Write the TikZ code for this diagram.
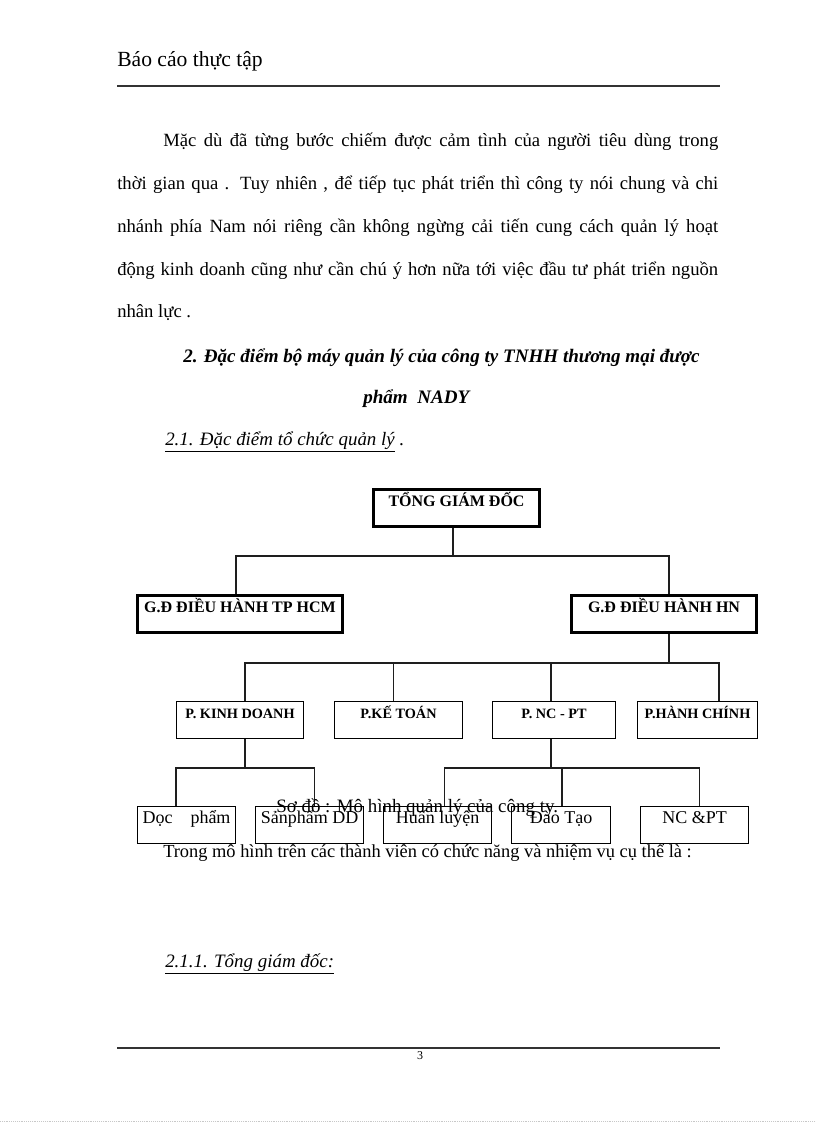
\documentclass[tikz,border=0pt]{standalone}
\usepackage{fontspec}
\setmainfont{Liberation Serif}
\usepackage{xcolor}
\usepackage{tikz}
\usetikzlibrary{positioning,calc}
\definecolor{DOCink}{HTML}{000000}
\definecolor{DOCline}{HTML}{1E1E1E}
\definecolor{DOCrule}{HTML}{333333}
\definecolor{DOCedge}{HTML}{C8C8C8}
\newcommand{\fullline}[2]{\makebox[#1][s]{#2}}
\tikzset{
  topbox/.style={draw=DOCink, line width=2.2pt, inner sep=0pt, align=center, text height=13pt, text depth=15pt, font=\fontsize{12}{14}\selectfont\bfseries},
  deptbox/.style={draw=DOCink, line width=0.8pt, inner sep=0pt, align=center, text height=12.4pt, text depth=15.35pt, font=\fontsize{10.7}{12}\selectfont\bfseries},
  leafbox/.style={draw=DOCink, line width=0.8pt, inner sep=0pt, align=center, text height=13.1pt, text depth=14.65pt, font=\fontsize{13.5}{15}\selectfont},
  orglink/.style={draw=DOCline, line width=0.8pt},
  bodyline/.style={anchor=base west, inner sep=0pt, font=\fontsize{14}{16}\selectfont},
  pagerule/.style={draw=DOCrule, line width=1.3pt}
}

\begin{document}
\begin{tikzpicture}[x=0.75pt, y=-0.75pt]
\fill[white] (0,0) rectangle (816,1123);
\useasboundingbox (0,0) rectangle (816,1123);

% page head
\node[anchor=base west, inner sep=0pt, font=\fontsize{16.2}{18}\selectfont] (head) at (117,67) {Báo cáo thực tập};
\draw[pagerule] (117,86) -- (720,86);

% paragraph
\node[bodyline] (p1) at (163,147) {\fullline{416.25pt}{Mặc dù đã từng bước chiếm được cảm tình của người tiêu dùng trong}};
\node[bodyline] (p2) at (117,190) {\fullline{450.75pt}{thời gian qua . Tuy nhiên , để tiếp tục phát triển thì công ty nói chung và chi}};
\node[bodyline] (p3) at (117,233) {\fullline{450.75pt}{nhánh phía Nam nói riêng cần không ngừng cải tiến cung cách quản lý hoạt}};
\node[bodyline] (p4) at (117,275) {\fullline{450.75pt}{động kinh doanh cũng như cần chú ý hơn nữa tới việc đầu tư phát triển nguồn}};
\node[bodyline] (p5) at (117,317) {nhân lực .};

% headings
\node[bodyline, font=\fontsize{14.3}{16}\selectfont\bfseries\itshape] (sec2) at (183,362) {2. Đặc điểm bộ máy quản lý của công ty TNHH thương mại được};
\node[bodyline, font=\fontsize{14.3}{16}\selectfont\bfseries\itshape] (sec2b) at (363,403) {phẩm\ \ NADY};
\node[bodyline, font=\fontsize{14.2}{16}\selectfont\itshape] (sec21) at (165,445) {\underline{2.1. Đặc điểm tổ chức quản lý} .};

% chart
\node[topbox, minimum width=125pt] (tgd) at (456.5,508) {TỔNG GIÁM ĐỐC};
\node[topbox, minimum width=153.75pt] (hcm) at (240,614) {G.Đ ĐIỀU HÀNH TP HCM};
\node[topbox, minimum width=138.75pt] (hn) at (664,614) {G.Đ ĐIỀU HÀNH HN};

\node[deptbox, minimum width=95.25pt] (kd) at (240,720) {P. KINH DOANH};
\node[deptbox, minimum width=96pt] (kt) at (398.5,720) {P.KẾ TOÁN};
\node[deptbox, minimum width=92.25pt] (nc) at (554,720) {P. NC - PT};
\node[deptbox, minimum width=90pt] (hc) at (697.5,720) {P.HÀNH CHÍNH};

\node[leafbox, minimum width=73.5pt] (dp) at (186.5,825) {Dọc\ \ \ \ phẩm};
\node[leafbox, minimum width=81pt] (sp) at (309.5,825) {Sảnphẩm DD};
\node[leafbox, minimum width=81pt] (hl) at (437.5,825) {Huấn luyện};
\node[leafbox, minimum width=74.25pt] (dt) at (561,825) {Đào Tạo};
\node[leafbox, minimum width=81pt] (ncpt) at (694.5,825) {NC \&PT};

\coordinate (busA) at (453,556);
\draw[orglink] (busA) -- (busA |- tgd.south);
\draw[orglink] ([xshift=-3pt]hcm.north) |- (busA) -| ([xshift=3.75pt]hn.north);

\coordinate (busB) at (669,663);
\draw[orglink] (busB) -- (busB |- hn.south);
\draw[orglink] ([xshift=3.75pt]kd.north) |- (busB) -| ([xshift=16.1pt]hc.north);
\draw[orglink] ([xshift=-4.1pt]kt.north) |- (busB);
\draw[orglink] ([xshift=-2.25pt]nc.north) |- (busB);

\coordinate (busC) at (245,768);
\draw[orglink] (busC) -- (busC |- kd.south);
\draw[orglink] ([xshift=-7.9pt]dp.north) |- (busC) -| ([xshift=3.4pt]sp.north);

\coordinate (busD) at (551,768);
\draw[orglink] (busD) -- (busD |- nc.south);
\draw[orglink] ([xshift=4.9pt]hl.north) |- (busD) -| ([xshift=3.4pt]ncpt.north);
\draw[orglink] ([xshift=0.75pt]dt.north) |- (busD);

% caption and text below
\node[bodyline, font=\fontsize{14.2}{16}\selectfont] (cap) at (276,812) {Sơ đồ : Mô hình quản lý của công ty.};
\node[bodyline, font=\fontsize{13.8}{16}\selectfont] (intro) at (163,857) {Trong mô hình trên các thành viên có chức năng và nhiệm vụ cụ thể là :};
\node[bodyline, font=\fontsize{14.2}{16}\selectfont\itshape] (sec211) at (165,967) {\underline{2.1.1. Tổng giám đốc:}};

% page foot
\draw[pagerule] (117,1048) -- (720,1048);
\node[font=\fontsize{9}{10}\selectfont, inner sep=0pt] (pnum) at (420,1056) {3};
\draw[DOCedge, densely dotted] (0,1121) -- (816,1121);
\end{tikzpicture}
\end{document}
